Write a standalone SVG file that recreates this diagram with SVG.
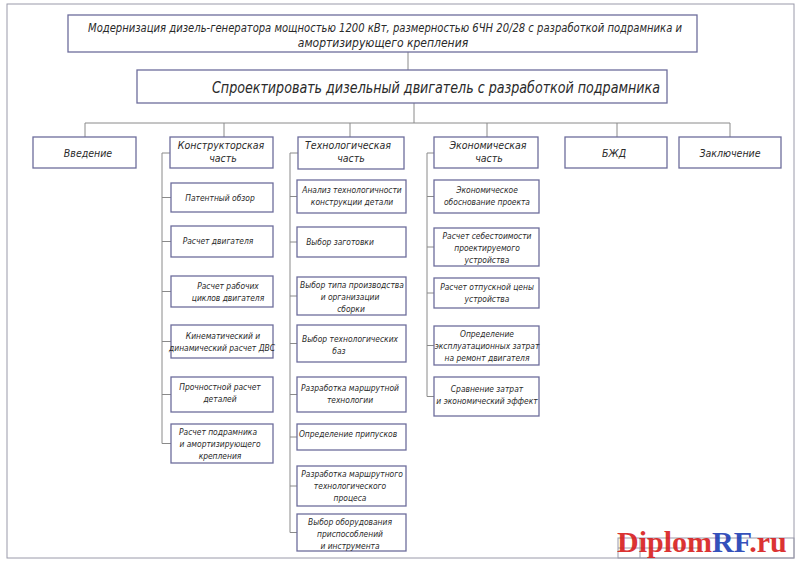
<svg xmlns="http://www.w3.org/2000/svg" width="800" height="565" viewBox="0 0 800 565">
<style>
.bg{fill:#ffffff}
.frame{fill:none;stroke:#9a9aaa;stroke-width:1}
.box{fill:#ffffff;stroke:#6d6d9c;stroke-width:1.3}
.conn{fill:none;stroke:#8a8a8a;stroke-width:1}
.t{font-family:"DejaVu Sans Condensed","Liberation Sans Narrow","DejaVu Sans",sans-serif;font-style:italic;fill:#2a2a2a;text-anchor:middle}
.s{font-size:8.4px}
.h{font-size:10.5px}
.big{font-size:12px}
.huge{font-size:15px}
.wm{font-family:"Liberation Serif","DejaVu Serif",serif;font-weight:bold;font-size:30px}
</style>
<rect class="bg" x="0" y="0" width="800" height="565"/>
<rect class="frame" x="7" y="4" width="787" height="554"/>
<g id="title-block">
<rect class="frame" x="618" y="538" width="176" height="20"/>
<line class="frame" x1="618" y1="548" x2="700" y2="548"/>
<line class="frame" x1="640" y1="538" x2="640" y2="558"/>
</g>

<g id="connectors">
<line class="conn" x1="408" y1="52" x2="408" y2="70"/>
<line class="conn" x1="414" y1="103" x2="414" y2="123"/>
<line class="conn" x1="85" y1="123" x2="730" y2="123"/>
<line class="conn" x1="85" y1="123" x2="85" y2="137"/>
<line class="conn" x1="224" y1="123" x2="224" y2="137"/>
<line class="conn" x1="350" y1="123" x2="350" y2="137"/>
<line class="conn" x1="487" y1="123" x2="487" y2="137"/>
<line class="conn" x1="617" y1="123" x2="617" y2="137"/>
<line class="conn" x1="730" y1="123" x2="730" y2="137"/>
<polyline class="conn" points="171,153 162,153 162,443.5 171,443.5"/>
<line class="conn" x1="162" y1="197.5" x2="171" y2="197.5"/>
<line class="conn" x1="162" y1="241.5" x2="171" y2="241.5"/>
<line class="conn" x1="162" y1="291.5" x2="171" y2="291.5"/>
<line class="conn" x1="162" y1="341.5" x2="171" y2="341.5"/>
<line class="conn" x1="162" y1="394.5" x2="171" y2="394.5"/>
<polyline class="conn" points="298,153 290,153 290,532.5 297,532.5"/>
<line class="conn" x1="290" y1="196.5" x2="297" y2="196.5"/>
<line class="conn" x1="290" y1="242" x2="297" y2="242"/>
<line class="conn" x1="290" y1="296" x2="297" y2="296"/>
<line class="conn" x1="290" y1="343.5" x2="297" y2="343.5"/>
<line class="conn" x1="290" y1="394.5" x2="297" y2="394.5"/>
<line class="conn" x1="290" y1="437" x2="297" y2="437"/>
<line class="conn" x1="290" y1="486" x2="297" y2="486"/>
<polyline class="conn" points="434,153 427,153 427,396.5 434,396.5"/>
<line class="conn" x1="427" y1="196.5" x2="434" y2="196.5"/>
<line class="conn" x1="427" y1="247" x2="434" y2="247"/>
<line class="conn" x1="427" y1="293" x2="434" y2="293"/>
<line class="conn" x1="427" y1="345.5" x2="434" y2="345.5"/>
</g>

<g id="n-title">
<rect class="box" x="68" y="15" width="629" height="37"/>
<text class="t big" x="385" y="32" textLength="594" lengthAdjust="spacingAndGlyphs">Модернизация дизель-генератора мощностью 1200 кВт, размерностью 6ЧН 20/28 с разработкой подрамника и</text>
<text class="t big" x="383" y="47">амортизирующего крепления</text>
</g>
<g id="n-main">
<rect class="box" x="137" y="70" width="530" height="33"/>
<text class="t huge" x="436" y="93" textLength="448" lengthAdjust="spacingAndGlyphs">Спроектировать дизельный  двигатель с разработкой подрамника</text>
</g>

<g id="n-intro"><rect class="box" x="33" y="137" width="103" height="31"/><text class="t h" x="88" y="157">Введение</text></g>
<g id="n-konstr"><rect class="box" x="170" y="137" width="103" height="31"/><text class="t h" x="221" y="149">Конструкторская</text><text class="t h" x="223" y="162">часть</text></g>
<g id="n-tech"><rect class="box" x="298" y="137" width="106" height="32"/><text class="t h" x="348" y="149">Технологическая</text><text class="t h" x="351" y="162">часть</text></g>
<g id="n-econ"><rect class="box" x="434" y="137" width="104" height="31"/><text class="t h" x="488" y="149">Экономическая</text><text class="t h" x="489" y="162">часть</text></g>
<g id="n-bzd"><rect class="box" x="565" y="137" width="102" height="31"/><text class="t h" x="614" y="157">БЖД</text></g>
<g id="n-concl"><rect class="box" x="679" y="137" width="102" height="31"/><text class="t h" x="730" y="157">Заключение</text></g>

<g id="k1"><rect class="box" x="171" y="183" width="102" height="29"/><text class="t s" x="220" y="201">Патентный обзор</text></g>
<g id="k2"><rect class="box" x="171" y="226" width="102" height="31"/><text class="t s" x="218" y="244">Расчет двигателя</text></g>
<g id="k3"><rect class="box" x="171" y="276" width="102" height="31"/><text class="t s" x="228" y="289">Расчет рабочих</text><text class="t s" x="228" y="301">циклов двигателя</text></g>
<g id="k4"><rect class="box" x="171" y="325" width="102" height="33"/><text class="t s" x="223" y="339">Кинематический и</text><text class="t s" x="222" y="351">динамический расчет ДВС</text></g>
<g id="k5"><rect class="box" x="171" y="377" width="102" height="35"/><text class="t s" x="220" y="390">Прочностной расчет</text><text class="t s" x="220" y="402">деталей</text></g>
<g id="k6"><rect class="box" x="171" y="424" width="102" height="39"/><text class="t s" x="218" y="435">Расчет подрамника</text><text class="t s" x="220" y="447">и амортизирующего</text><text class="t s" x="220" y="459">крепления</text></g>

<g id="t1"><rect class="box" x="297" y="180" width="109" height="33"/><text class="t s" x="352" y="193">Анализ технологичности</text><text class="t s" x="352" y="205">конструкции детали</text></g>
<g id="t2"><rect class="box" x="297" y="227" width="109" height="30"/><text class="t s" x="340" y="245">Выбор заготовки</text></g>
<g id="t3"><rect class="box" x="297" y="277" width="109" height="38"/><text class="t s" x="352" y="288">Выбор типа производства</text><text class="t s" x="350" y="300">и организации</text><text class="t s" x="351" y="312">сборки</text></g>
<g id="t4"><rect class="box" x="297" y="325" width="109" height="37"/><text class="t s" x="350" y="342">Выбор технологических</text><text class="t s" x="339" y="354">баз</text></g>
<g id="t5"><rect class="box" x="297" y="377" width="109" height="35"/><text class="t s" x="350" y="391">Разработка маршрутной</text><text class="t s" x="350" y="403">технологии</text></g>
<g id="t6"><rect class="box" x="297" y="424" width="109" height="26"/><text class="t s" x="348" y="437">Определение припусков</text></g>
<g id="t7"><rect class="box" x="297" y="466" width="109" height="40"/><text class="t s" x="352" y="477">Разработка маршрутного</text><text class="t s" x="350" y="489">технологического</text><text class="t s" x="350" y="501">процеса</text></g>
<g id="t8"><rect class="box" x="297" y="514" width="109" height="37"/><text class="t s" x="350" y="525">Выбор оборудования</text><text class="t s" x="350" y="537">приспособлений</text><text class="t s" x="350" y="549">и инструмента</text></g>

<g id="e1"><rect class="box" x="434" y="180" width="105" height="33"/><text class="t s" x="487" y="193">Экономическое</text><text class="t s" x="487" y="205">обоснование проекта</text></g>
<g id="e2"><rect class="box" x="434" y="228" width="105" height="38"/><text class="t s" x="487" y="239">Расчет себестоимости</text><text class="t s" x="487" y="251">проектируемого</text><text class="t s" x="487" y="263">устройства</text></g>
<g id="e3"><rect class="box" x="434" y="278" width="105" height="30"/><text class="t s" x="487" y="290">Расчет отпускной цены</text><text class="t s" x="487" y="302">устройства</text></g>
<g id="e4"><rect class="box" x="434" y="326" width="105" height="39"/><text class="t s" x="487" y="337">Определение</text><text class="t s" x="487" y="349">эксплуатационных затрат</text><text class="t s" x="487" y="361">на ремонт двигателя</text></g>
<g id="e5"><rect class="box" x="434" y="377" width="105" height="39"/><text class="t s" x="487" y="392">Сравнение затрат</text><text class="t s" x="487" y="404">и экономический эффект</text></g>

<g id="watermark" opacity="0.9">
<text class="wm" x="617" y="552"><tspan fill="#d81e1e">Diplom</tspan><tspan fill="#1f3fb4">RF</tspan><tspan fill="#d81e1e">.ru</tspan></text>
</g>
</svg>
